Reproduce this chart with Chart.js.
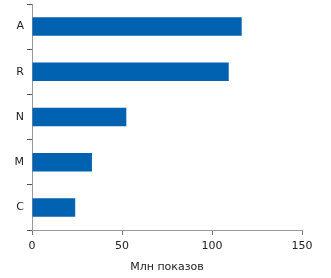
<!DOCTYPE html>
<html>
<head>
<meta charset="utf-8">
<script src="https://cdn.jsdelivr.net/npm/chart.js@4/dist/chart.umd.min.js"></script>
<style>
  html, body { margin: 0; padding: 0; background: #fff; }
  #wrap { width: 331px; height: 278px; position: relative; }
</style>
</head>
<body>
<div id="wrap"><canvas id="chart"></canvas></div>
<script>
// data
const categories = ['A', 'R', 'N', 'M', 'C'];
const values = [116.5, 109.3, 52.4, 33.3, 24];
const xTicks = [0, 50, 100, 150];
const xTitle = 'Млн показов';

const FONT = { family: '"DejaVu Sans", Verdana, sans-serif', size: 11 };

new Chart(document.getElementById('chart'), {
    type: 'bar',
    data: {
        labels: categories,
        datasets: [{
            data: values,
            backgroundColor: '#0062b0',
            borderWidth: 0,
            barPercentage: 0.41,
            categoryPercentage: 1
        }]
    },
    options: {
        indexAxis: 'y',
        responsive: true,
        maintainAspectRatio: false,
        animation: false,
        layout: { padding: { top: 4, right: 29, left: 0, bottom: 0 } },
        plugins: { legend: { display: false }, tooltip: { enabled: false } },
        scales: {
            x: {
                min: 0,
                max: 150,
                afterBuildTicks: s => { s.ticks = xTicks.map(v => ({ value: v })); },
                afterFit: s => { s.height = 48; s.paddingLeft = 0; s.paddingRight = 0; },
                border: { color: '#999', width: 1 },
                grid: { drawOnChartArea: false, tickLength: 5, color: '#777' },
                ticks: { color: '#222', font: FONT, padding: 5, maxRotation: 0 },
                title: { display: true, text: xTitle, color: '#222', font: FONT, padding: { top: 0, bottom: 4 } }
            },
            y: {
                afterFit: s => { s.width = 32; s.paddingTop = 0; s.paddingBottom = 0; },
                border: { color: '#999', width: 1 },
                grid: { drawOnChartArea: false, tickLength: 5, color: '#555', offset: true },
                ticks: { color: '#222', font: FONT, padding: 3 }
            }
        }
    }
});
</script>
</body>
</html>
